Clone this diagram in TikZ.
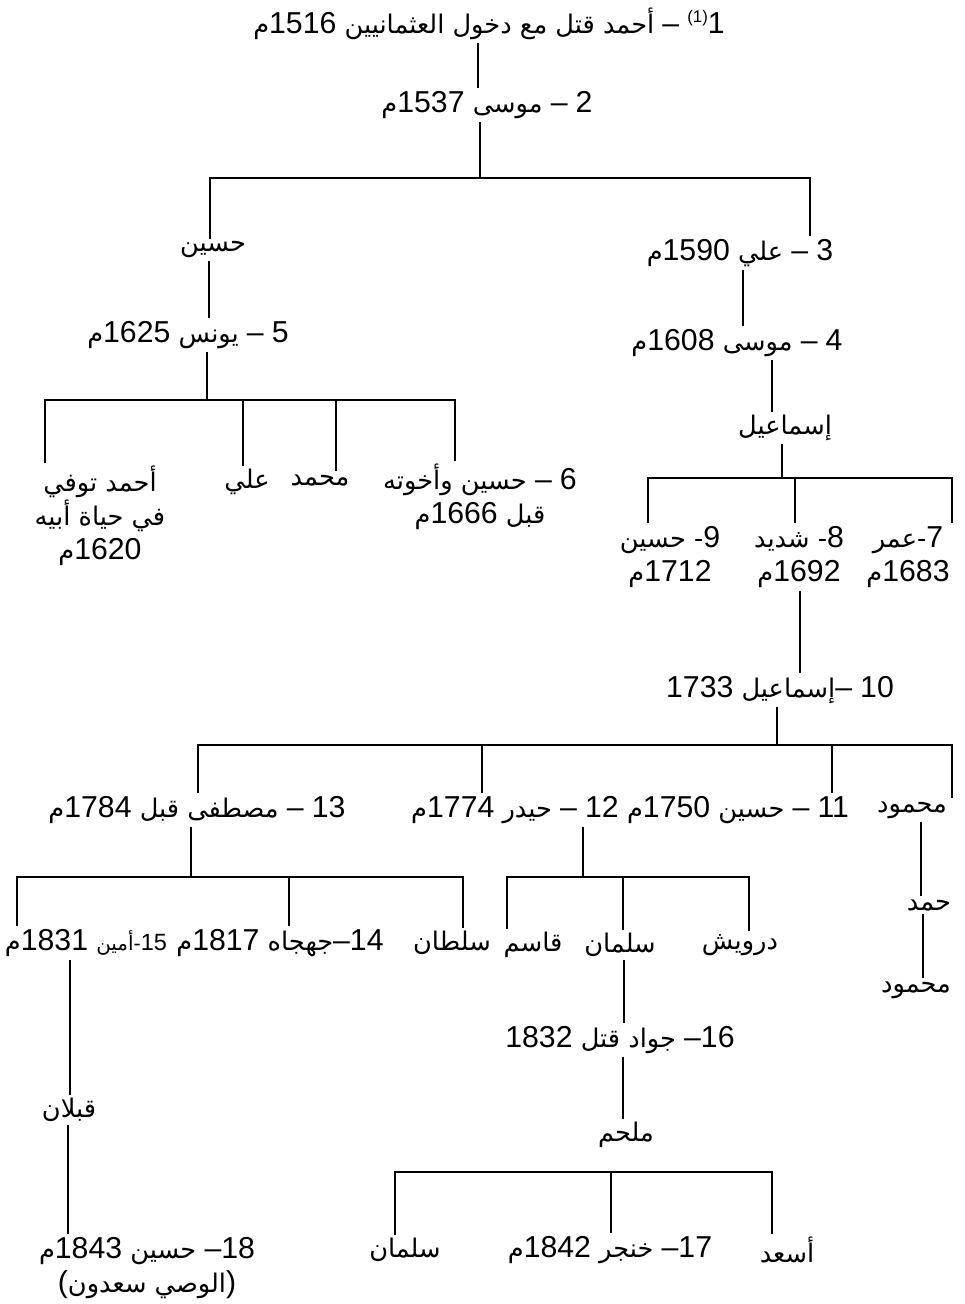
\documentclass[tikz,border=0pt]{standalone}
\usepackage{fontspec}
\setmainfont{Liberation Sans}
\newfontfamily\arfont[Script=Arabic,Scale=0.95]{DejaVu Sans}
\newfontfamily\lafont[Scale=1.12]{Liberation Sans}
\TeXXeTstate=1
\newcommand\nm[1]{\beginL{\lafont #1}\endL}
\newcommand\rl[1]{{\arfont\beginR #1\endR}}
\tikzset{
  lbl/.style={inner sep=3pt, align=center, font=\fontsize{27}{34}\selectfont},
  link/.style={line width=1.5pt, black}
}
\begin{document}
\begin{tikzpicture}[x=1pt,y=-1pt]
\useasboundingbox (0,0) rectangle (965,1304);
% nodes
\node[lbl] (n1) at (489,24) {\rl{\nm{1}\raisebox{11pt}{\fontsize{15}{15}\selectfont\lafont(1)} \nm{–} أحمد قتل مع دخول العثمانيين \nm{1516}م}};
\node[lbl] (n2) at (487,105) {\rl{\nm{2} \nm{–} موسى \nm{1537}م}};
\node[lbl] (hus) at (213,250) {\rl{حسين}};
\node[lbl] (n3) at (740,253) {\rl{\nm{3} \nm{–} علي \nm{1590}م}};
\node[lbl] (n5) at (188,335) {\rl{\nm{5} \nm{–} يونس \nm{1625}م}};
\node[lbl] (n4) at (737,343) {\rl{\nm{4} \nm{–} موسى \nm{1608}م}};
\node[lbl] (ism) at (785,428) {\rl{إسماعيل}};
\node[lbl] (ahm) at (100,516) {\rl{أحمد توفي}\\\rl{في حياة أبيه}\\\rl{\nm{1620}م}};
\node[lbl] (ali) at (247,482) {\rl{علي}};
\node[lbl] (muh) at (320,480) {\rl{محمد}};
\node[lbl] (n6) at (480,497) {\rl{\nm{6} \nm{–} حسين وأخوته}\\\rl{قبل \nm{1666}م}};
\node[lbl] (n9) at (670,557) {\rl{\nm{9}- حسين}\\\rl{\nm{1712}م}};
\node[lbl] (n8) at (799,557) {\rl{\nm{8}- شديد}\\\rl{\nm{1692}م}};
\node[lbl] (n7) at (908,557) {\rl{\nm{7}-عمر}\\\rl{\nm{1683}م}};
\node[lbl] (n10) at (780,690) {\rl{\nm{10} \nm{–}إسماعيل \nm{1733}}};
\node[lbl] (n13) at (197,810) {\rl{\nm{13} \nm{–} مصطفى قبل \nm{1784}م}};
\node[lbl] (n12) at (515,810) {\rl{\nm{12} \nm{–} حيدر \nm{1774}م}};
\node[lbl] (n11) at (738,810) {\rl{\nm{11} \nm{–} حسين \nm{1750}م}};
\node[lbl] (mah1) at (912,810) {\rl{محمود}};
\node[lbl] (n15) at (86,943) {\rl{{\fontsize{21}{21}\selectfont\nm{15}-أمين} \nm{1831}م}};
\node[lbl] (n14) at (280,943) {\rl{\nm{14}\nm{–}جهجاه \nm{1817}م}};
\node[lbl] (sul) at (452,943) {\rl{سلطان}};
\node[lbl] (qas) at (533,945) {\rl{قاسم}};
\node[lbl] (sal) at (620,945) {\rl{سلمان}};
\node[lbl] (dar) at (740,945) {\rl{درويش}};
\node[lbl] (ham) at (929,905) {\rl{حمد}};
\node[lbl] (mah2) at (916,990) {\rl{محمود}};
\node[lbl] (n16) at (620,1040) {\rl{\nm{16}\nm{–} جواد قتل \nm{1832}}};
\node[lbl] (qab) at (69,1110) {\rl{قبلان}};
\node[lbl] (mul) at (626,1135) {\rl{ملحم}};
\node[lbl] (sal2) at (405,1250) {\rl{سلمان}};
\node[lbl] (n17) at (610,1250) {\rl{\nm{17}\nm{–} خنجر \nm{1842}م}};
\node[lbl] (asad) at (787,1250) {\rl{أسعد}};
\node[lbl] (n18) at (147,1268) {\rl{\nm{18}\nm{–} حسين \nm{1843}م}\\\rl{\nm{)}الوصي سعدون\nm{(}}};
% trunk / bar coordinates
\coordinate (t1) at (478,0);
\coordinate (j2) at (480,178);
\coordinate (j2L) at (210,178);
\coordinate (j2R) at (810,178);
\coordinate (t5) at (209,0);
\coordinate (j5) at (207,400);
\coordinate (j5a) at (45,400);
\coordinate (j5b) at (243,400);
\coordinate (j5c) at (336,400);
\coordinate (j5d) at (455,400);
\coordinate (t4) at (743,0);
\coordinate (tI) at (772,0);
\coordinate (jI) at (782,478);
\coordinate (jIa) at (648,478);
\coordinate (jIb) at (795,478);
\coordinate (jIc) at (952,478);
\coordinate (t10) at (800,0);
\coordinate (j10) at (777,745);
\coordinate (j10a) at (198,745);
\coordinate (j10b) at (482,745);
\coordinate (j10c) at (832,745);
\coordinate (j10d) at (952,745);
\coordinate (j13) at (191,877);
\coordinate (j13a) at (17,877);
\coordinate (j13b) at (289,877);
\coordinate (j13c) at (463,877);
\coordinate (j12) at (583,877);
\coordinate (j12a) at (507,877);
\coordinate (j12b) at (623,877);
\coordinate (j12c) at (749,877);
\coordinate (tM1) at (921,0);
\coordinate (tM2) at (923,0);
\coordinate (tS) at (624,0);
\coordinate (t16) at (623,0);
\coordinate (t15) at (70,0);
\coordinate (tQ) at (68,0);
\coordinate (jMa) at (395,1172);
\coordinate (jMb) at (611,1172);
\coordinate (jMc) at (772,1172);
% connectors
\draw[link] (n1.south -| t1) -- (n2.north -| t1);
\draw[link] (n2.south -| j2) -- (j2);
\draw[link] (j2L |- hus.north) -- (j2L) -- (j2R) -- (j2R |- n3.north);
\draw[link] (hus.south -| t5) -- (n5.north -| t5);
\draw[link] (n5.south -| j5) -- (j5);
\draw[link] (j5a |- ahm.north) -- (j5a) -- (j5d) -- (j5d |- n6.north);
\draw[link] (j5b) -- (j5b |- ali.north);
\draw[link] (j5c) -- (j5c |- muh.north);
\draw[link] (n3.south -| t4) -- (n4.north -| t4);
\draw[link] (n4.south -| tI) -- (ism.north -| tI);
\draw[link] (ism.south -| jI) -- (jI);
\draw[link] (jIa |- n9.north) -- (jIa) -- (jIc) -- (jIc |- n7.north);
\draw[link] (jIb) -- (jIb |- n8.north);
\draw[link] (n8.south -| t10) -- (n10.north -| t10);
\draw[link] (n10.south -| j10) -- (j10);
\draw[link] (j10a |- n13.north) -- (j10a) -- (j10d) -- (j10d |- mah1.north);
\draw[link] (j10b) -- (j10b |- n12.north);
\draw[link] (j10c) -- (j10c |- n11.north);
\draw[link] (n13.south -| j13) -- (j13);
\draw[link] (j13a |- n15.north) -- (j13a) -- (j13c) -- (j13c |- sul.north);
\draw[link] (j13b) -- (j13b |- n14.north);
\draw[link] (n12.south -| j12) -- (j12);
\draw[link] (j12a |- qas.north) -- (j12a) -- (j12c) -- (j12c |- dar.north);
\draw[link] (j12b) -- (j12b |- sal.north);
\draw[link] (mah1.south -| tM1) -- (ham.north -| tM1);
\draw[link] (ham.south -| tM2) -- (mah2.north -| tM2);
\draw[link] (sal.south -| tS) -- (n16.north -| tS);
\draw[link] (n16.south -| t16) -- (mul.north -| t16);
\draw[link] (n15.south -| t15) -- (qab.north -| t15);
\draw[link] (qab.south -| tQ) -- (n18.north -| tQ);
\draw[link] (jMa |- sal2.north) -- (jMa) -- (jMc) -- (jMc |- asad.north);
\draw[link] (jMb) -- (jMb |- n17.north);
\end{tikzpicture}
\end{document}
